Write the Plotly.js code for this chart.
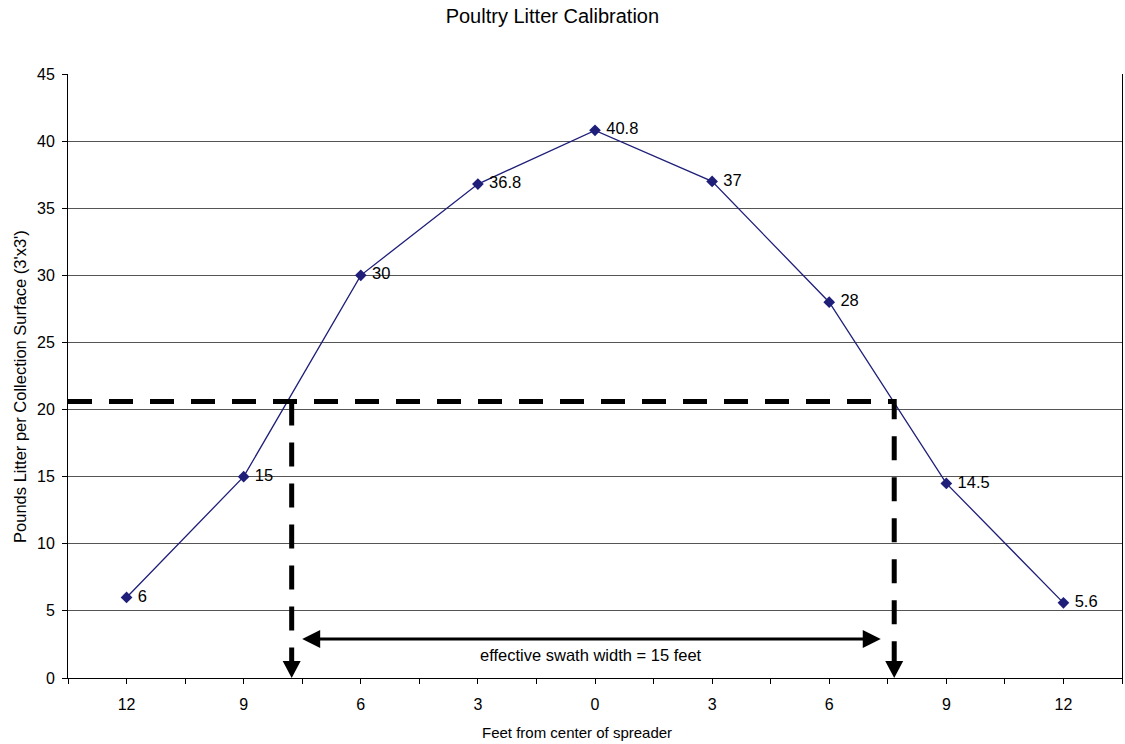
<!DOCTYPE html>
<html>
<head>
<meta charset="utf-8">
<script src="https://cdn.plot.ly/plotly-3.0.1.min.js"></script>
<style>html,body{margin:0;padding:0;background:#fff;}#chart{width:1125px;height:744px;}</style>
</head>
<body>
<div id="chart"></div>
<script>
// Data
var tickLabels = ['12', '9', '6', '3', '0', '3', '6', '9', '12'];
var litterValues = [6, 15, 30, 36.8, 40.8, 37, 28, 14.5, 5.6];
var positions = [0, 1, 2, 3, 4, 5, 6, 7, 8];

// Annotation values (swath illustration)
var swathLevel = 20.6;
var swathLeft = 1.41;
var swathRight = 6.555;
var arrowLevel = 2.9;
var arrowLeft = 1.5;
var arrowRight = 6.44;

var pxX = 1054.6 / 9;   // px per category
var pxY = 604.3 / 45;   // px per unit

var tickvals = [], ticktext = [];
for (var i = -0.5; i <= 8.5; i += 0.5) {
  tickvals.push(i);
  if (Number.isInteger(i)) ticktext.push(tickLabels[i]); else ticktext.push('');
}

var trace = {
  x: positions, y: litterValues, type: 'scatter', mode: 'lines+markers+text',
  line: {color: '#1f1f7a', width: 1.3},
  marker: {symbol: 'diamond', size: 9, color: '#1f1f7a'},
  text: litterValues.map(function(v){ return ' ' + v; }),
  textposition: 'middle right',
  textfont: {family: 'Liberation Sans, Arial', size: 16.5, color: '#000'},
  hoverinfo: 'none', cliponaxis: false, showlegend: false
};

function triDown(x) {
  var hw = 9 / pxX, h = 17 / pxY;
  return 'M' + (x - hw) + ',' + h + ' L' + (x + hw) + ',' + h + ' L' + x + ',0 Z';
}
function triH(x, dir) {
  var len = 18 / pxX, hh = 9 / pxY;
  var base = x - dir * len;
  return 'M' + x + ',' + arrowLevel + ' L' + base + ',' + (arrowLevel + hh) + ' L' + base + ',' + (arrowLevel - hh) + ' Z';
}

var dashStyle = '24px,17px';
var shapes = [
  {type: 'path', xref: 'x', yref: 'y',
   path: 'M-0.5,' + swathLevel + ' L' + swathRight + ',' + swathLevel + ' L' + swathRight + ',' + (17 / pxY),
   line: {color: '#000', width: 5, dash: dashStyle}},
  {type: 'path', xref: 'x', yref: 'y',
   path: 'M' + swathLeft + ',' + swathLevel + ' L' + swathLeft + ',' + (17 / pxY),
   line: {color: '#000', width: 5, dash: dashStyle}},
  {type: 'path', xref: 'x', yref: 'y', path: triDown(swathLeft), fillcolor: '#000', line: {width: 0}},
  {type: 'path', xref: 'x', yref: 'y', path: triDown(swathRight), fillcolor: '#000', line: {width: 0}},
  {type: 'line', xref: 'x', yref: 'y', x0: arrowLeft + 10 / pxX, x1: arrowRight - 10 / pxX, y0: arrowLevel, y1: arrowLevel,
   line: {color: '#000', width: 3}},
  {type: 'path', xref: 'x', yref: 'y', path: triH(arrowLeft, -1), fillcolor: '#000', line: {width: 0}},
  {type: 'path', xref: 'x', yref: 'y', path: triH(arrowRight, 1), fillcolor: '#000', line: {width: 0}}
];

var layout = {
  width: 1125, height: 744,
  margin: {l: 68, r: 3, t: 74, b: 66},
  paper_bgcolor: '#fff', plot_bgcolor: '#fff',
  font: {family: 'Liberation Sans, Arial', size: 16, color: '#000'},
  title: {text: 'Poultry Litter Calibration', font: {size: 20}, x: 0.491, xanchor: 'center', y: 0.978, yanchor: 'middle'},
  xaxis: {
    range: [-0.5, 8.5], tickmode: 'array', tickvals: tickvals, ticktext: ticktext,
    ticks: 'outside', ticklen: 5, tickcolor: '#000', tickfont: {size: 16},
    ticklabelstandoff: 7,
    showgrid: false, zeroline: false, showline: true, linecolor: '#000', linewidth: 1
  },
  yaxis: {
    range: [0, 45], dtick: 5, tick0: 0, ticks: 'outside', ticklen: 5, tickcolor: '#000',
    tickfont: {size: 16}, ticklabelstandoff: 4,
    showgrid: true, gridcolor: '#555', gridwidth: 1, zeroline: false,
    showline: true, linecolor: '#000', linewidth: 1, mirror: true
  },
  shapes: shapes,
  annotations: [
    {xref: 'x', yref: 'y', x: (arrowLeft + arrowRight) / 2, y: arrowLevel, yshift: -16,
     text: 'effective swath width = 15 feet', showarrow: false, font: {size: 16.5}},
    {xref: 'paper', yref: 'paper', x: 0.4826, y: -0.0905, xanchor: 'center', yanchor: 'middle',
     text: 'Feet from center of spreader', showarrow: false, font: {size: 15}},
    {xref: 'paper', yref: 'paper', x: -0.0455, y: 0.482, xanchor: 'center', yanchor: 'middle', textangle: -90,
     text: "Pounds Litter per Collection Surface (3'x3')", showarrow: false, font: {size: 16.5}}
  ]
};

Plotly.newPlot('chart', [trace], layout, {staticPlot: true, displayModeBar: false});
</script>
</body>
</html>
